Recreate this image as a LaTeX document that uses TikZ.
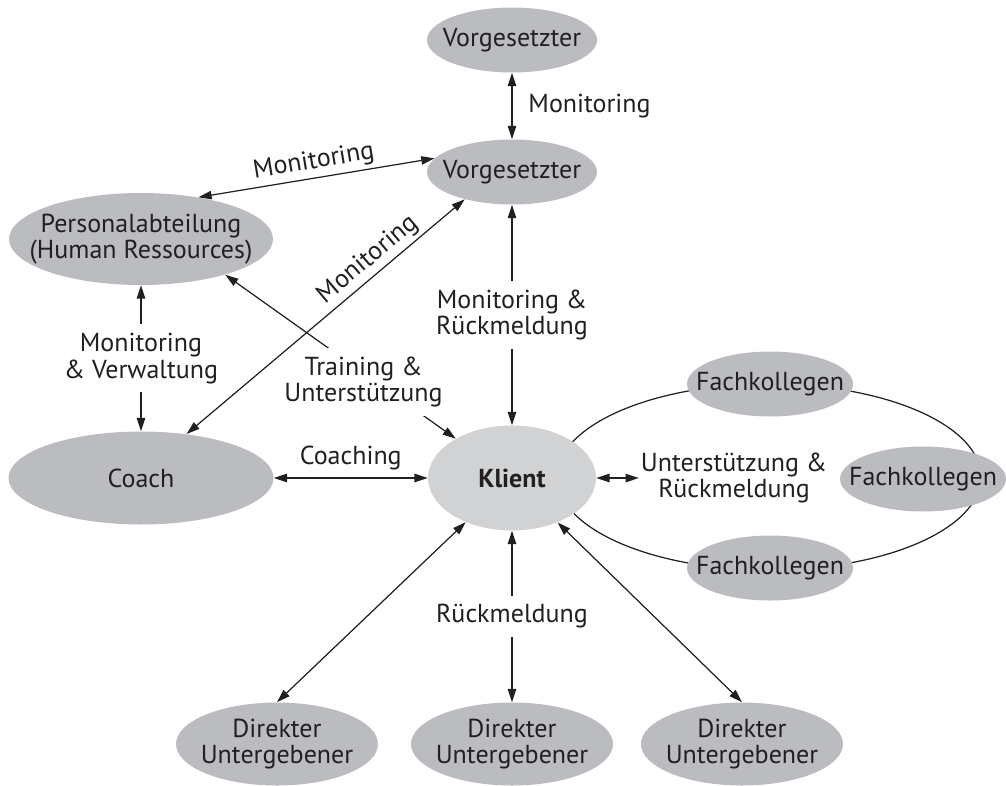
\documentclass[tikz,border=0pt]{standalone}
\usepackage{fontspec}
\setmainfont{PT Sans}
\usepackage{tikz}
\usetikzlibrary{shapes.geometric, arrows.meta, positioning}
\definecolor{bubblegray}{RGB}{187,188,192}
\definecolor{klientgray}{RGB}{209,210,212}
\definecolor{inkblack}{RGB}{35,31,32}

\tikzset{
	bubble/.style={ellipse, fill=bubblegray, inner sep=-1cm, align=center, text=inkblack},
	boss/.style={bubble, minimum width=3.4cm, minimum height=1.3cm},
	peer/.style={bubble, minimum width=3.32cm, minimum height=1.3cm},
	staff/.style={bubble, minimum width=4.04cm, minimum height=1.66cm},
	lbl/.style={align=center, text=inkblack, inner sep=2pt},
	gaplbl/.style={lbl, fill=white, inner sep=5pt},
	dbl/.style={{Triangle[length=7.5pt,width=4.8pt]}-{Triangle[length=7.5pt,width=4.8pt]}, line width=0.7pt, draw=inkblack}
}

\begin{document}
\begin{tikzpicture}[x=0.02cm, y=-0.02cm, font=\fontsize{14.8}{15.2}\selectfont]
	\useasboundingbox (0,0) rectangle (1006,785);
	
	% ring of peers
	\draw[line width=0.7pt, inkblack] (769,477) ellipse [x radius=4.24cm, y radius=1.86cm];
	
	\node[boss] (vgTop) at (512,40) {Vorgesetzter};
	\node[boss] (vgMid) at (512,172) {Vorgesetzter};
	\node[bubble, minimum width=5.28cm, minimum height=1.84cm] (hr) at (141,239) {Personalabteilung\\(Human Ressources)};
	\node[bubble, minimum width=5.3cm, minimum height=1.86cm] (coach) at (141,478) {Coach};
	\node[bubble, fill=klientgray, minimum width=3.36cm, minimum height=2.1cm] (klient) at (512,478) {\bfseries Klient};
	\node[peer] (fkTop) at (770,384) {Fachkollegen};
	\node[peer] (fkRight) at (923,479) {Fachkollegen};
	\node[peer] (fkBot) at (770,568) {Fachkollegen};
	\node[staff] (duLeft) at (277,744) {Direkter\\Untergebener};
	\node[staff] (duMid) at (512,744) {Direkter\\Untergebener};
	\node[staff] (duRight) at (742,744) {Direkter\\Untergebener};
	
	\draw[dbl] (vgTop) -- node[lbl, right, xshift=7pt] {Monitoring} (vgMid);
	\draw[dbl] (hr.36) -- node[lbl, above, sloped] {Monitoring} (vgMid.170);
	\draw[dbl] (hr.-23) -- node[gaplbl, pos=0.6, yshift=-5pt] {Training \&\\Unterstützung} (klient.145);
	\draw[dbl] (coach.44) -- node[lbl, above, sloped, pos=0.69] {Monitoring} (vgMid.210);
	\draw[dbl] (hr) -- node[gaplbl] {Monitoring\\\& Verwaltung} (coach);
	\draw[dbl] (vgMid) -- node[gaplbl] {Monitoring \&\\Rückmeldung} (klient);
	\draw[dbl] (coach) -- node[lbl, above, yshift=2pt] {Coaching} (klient);
	
	\node[lbl, inner xsep=1pt] (ur) at (734,478) {Unterstützung \&\\Rückmeldung};
	\draw[dbl] (klient) -- (ur);
	
	\draw[dbl] (klient) -- (duLeft.north);
	\draw[dbl] (klient) -- node[gaplbl] {Rückmeldung} (duMid);
	\draw[dbl] (klient) -- (duRight.north);
\end{tikzpicture}
\end{document}
